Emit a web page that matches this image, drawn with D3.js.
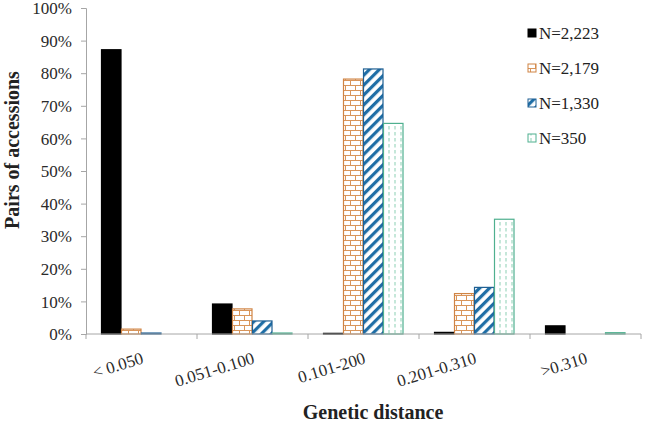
<!DOCTYPE html>
<html>
<head>
<meta charset="utf-8">
<script src="https://cdn.jsdelivr.net/npm/d3@7"></script>
<style>
  body { margin: 0; background: #fff; }
</style>
</head>
<body>
<script>
var categories = ["< 0.050", "0.051-0.100", "0.101-200", "0.201-0.310", ">0.310"];
var seriesNames = ["N=2,223", "N=2,179", "N=1,330", "N=350"];
var black  = [87.2, 9.2, 0.2, 0.5, 2.5];
var orange = [1.5, 7.7, 78.2, 12.4, 0];
var blue   = [0.3, 4.0, 81.3, 14.3, 0];
var green  = [0, 0.3, 64.6, 35.2, 0.4];
var yTicks = [0, 10, 20, 30, 40, 50, 60, 70, 80, 90, 100];

var w = 645, h = 428;
var margin = {top: 8, right: 4, bottom: 94, left: 86};
var serif = "'Liberation Serif', 'Times New Roman', Times, serif";

var svg = d3.select("body").append("svg")
    .attr("width", w)
    .attr("height", h)
    .attr("font-family", serif);

/* patterns */
var defs = svg.append("defs");

var brick = defs.append("pattern")
    .attr("id", "brick")
    .attr("patternUnits", "userSpaceOnUse")
    .attr("width", 10).attr("height", 10);
brick.append("rect").attr("width", 10).attr("height", 10).attr("fill", "#fff");
brick.append("path")
    .attr("d", "M0,0.5H10M0,5.5H10M2.5,0V5.5M7.5,5.5V10")
    .attr("stroke", "#d9955a").attr("stroke-width", 1).attr("fill", "none");

var diag = defs.append("pattern")
    .attr("id", "diag")
    .attr("patternUnits", "userSpaceOnUse")
    .attr("width", 7).attr("height", 7)
    .attr("patternTransform", "rotate(45)");
diag.append("rect").attr("width", 7).attr("height", 7).attr("fill", "#fff");
diag.append("rect").attr("width", 3.2).attr("height", 7).attr("fill", "#1f6ea6");

var dots = defs.append("pattern")
    .attr("id", "dots")
    .attr("patternUnits", "userSpaceOnUse")
    .attr("width", 6).attr("height", 6);
dots.append("rect").attr("width", 6).attr("height", 6).attr("fill", "#fff");
dots.append("path")
    .attr("d", "M3,0V3.5")
    .attr("stroke", "#8ccfb4").attr("stroke-width", 1);

var styles = [
  {fill: "#000", stroke: "#000"},
  {fill: "url(#brick)", stroke: "#d08444"},
  {fill: "url(#diag)", stroke: "#1f5f93"},
  {fill: "url(#dots)", stroke: "#4fb08f"}
];

var data = [black, orange, blue, green];

/* scales */
var x0 = d3.scaleBand()
    .domain(categories)
    .range([margin.left, 641]);
var x1 = d3.scaleBand()
    .domain(d3.range(seriesNames.length))
    .range([15.5, x0.bandwidth() - 15.5]);
var y = d3.scaleLinear()
    .domain([0, 100])
    .range([334, margin.top]);

/* axes */
var yAxis = d3.axisLeft(y)
    .tickValues(yTicks)
    .tickSize(5)
    .tickFormat(function(d) { return d + "%"; });
var gy = svg.append("g")
    .attr("transform", "translate(" + margin.left + ",0)")
    .call(yAxis)
    .attr("font-family", serif)
    .attr("font-size", 17);
gy.select(".domain").attr("stroke", "#a6a6a6");
gy.selectAll(".tick line").attr("stroke", "#a6a6a6");
gy.selectAll(".tick text")
    .attr("x", -14)
    .attr("dy", "0.34em")
    .attr("fill", "#2a2a2a");

var groups = svg.selectAll("g.grp")
    .data(categories)
    .enter().append("g")
    .attr("class", "grp")
    .attr("transform", function(d) { return "translate(" + x0(d) + ",0)"; });

groups.selectAll("rect")
    .data(function(d, i) { return data.map(function(s, k) { return {k: k, v: s[i]}; }); })
    .enter().append("rect")
    .filter(function(d) { return d.v > 0; })
    .attr("x", function(d) { return x1(d.k); })
    .attr("width", x1.bandwidth() - 0.5)
    .attr("y", function(d) { return y(d.v); })
    .attr("height", function(d) { return y(0) - y(d.v); })
    .attr("fill", function(d) { return styles[d.k].fill; })
    .attr("stroke", function(d) { return styles[d.k].stroke; })
    .attr("stroke-width", 1.2);

/* x axis */
var xAxisG = svg.append("g");
xAxisG.append("line")
    .attr("x1", margin.left).attr("x2", 641)
    .attr("y1", y(0)).attr("y2", y(0))
    .attr("stroke", "#a6a6a6");
xAxisG.selectAll("line.tk")
    .data(categories.concat(["end"]))
    .enter().append("line")
    .attr("class", "tk")
    .attr("x1", function(d, i) { return margin.left + i * x0.bandwidth(); })
    .attr("x2", function(d, i) { return margin.left + i * x0.bandwidth(); })
    .attr("y1", y(0)).attr("y2", y(0) + 5)
    .attr("stroke", "#a6a6a6");
xAxisG.selectAll("text")
    .data(categories)
    .enter().append("text")
    .attr("text-anchor", "end")
    .attr("transform", function(d) {
      return "translate(" + (x0(d) + x0.bandwidth() / 2 + 3) + "," + (y(0) + 29) + ") rotate(-17)";
    })
    .attr("font-size", 17)
    .attr("fill", "#2a2a2a")
    .text(function(d) { return d; });

/* titles */
svg.append("text")
    .attr("x", 373)
    .attr("y", 419)
    .attr("text-anchor", "middle")
    .attr("font-size", 20)
    .attr("font-weight", "bold")
    .attr("fill", "#222")
    .text("Genetic distance");

svg.append("text")
    .attr("transform", "translate(19,150) rotate(-90)")
    .attr("text-anchor", "middle")
    .attr("font-size", 20)
    .attr("font-weight", "bold")
    .attr("fill", "#222")
    .text("Pairs of accessions");

/* legend */
var legend = svg.selectAll("g.leg")
    .data(seriesNames)
    .enter().append("g")
    .attr("class", "leg")
    .attr("transform", function(d, i) { return "translate(528," + (33 + i * 35) + ")"; });
legend.append("rect")
    .attr("x", 0).attr("y", -4)
    .attr("width", 8).attr("height", 8)
    .attr("fill", function(d, i) { return styles[i].fill; })
    .attr("stroke", function(d, i) { return styles[i].stroke; });
legend.append("text")
    .attr("x", 11)
    .attr("y", 5.5)
    .attr("font-size", 17)
    .attr("fill", "#222")
    .text(function(d) { return d; });
</script>
</body>
</html>
